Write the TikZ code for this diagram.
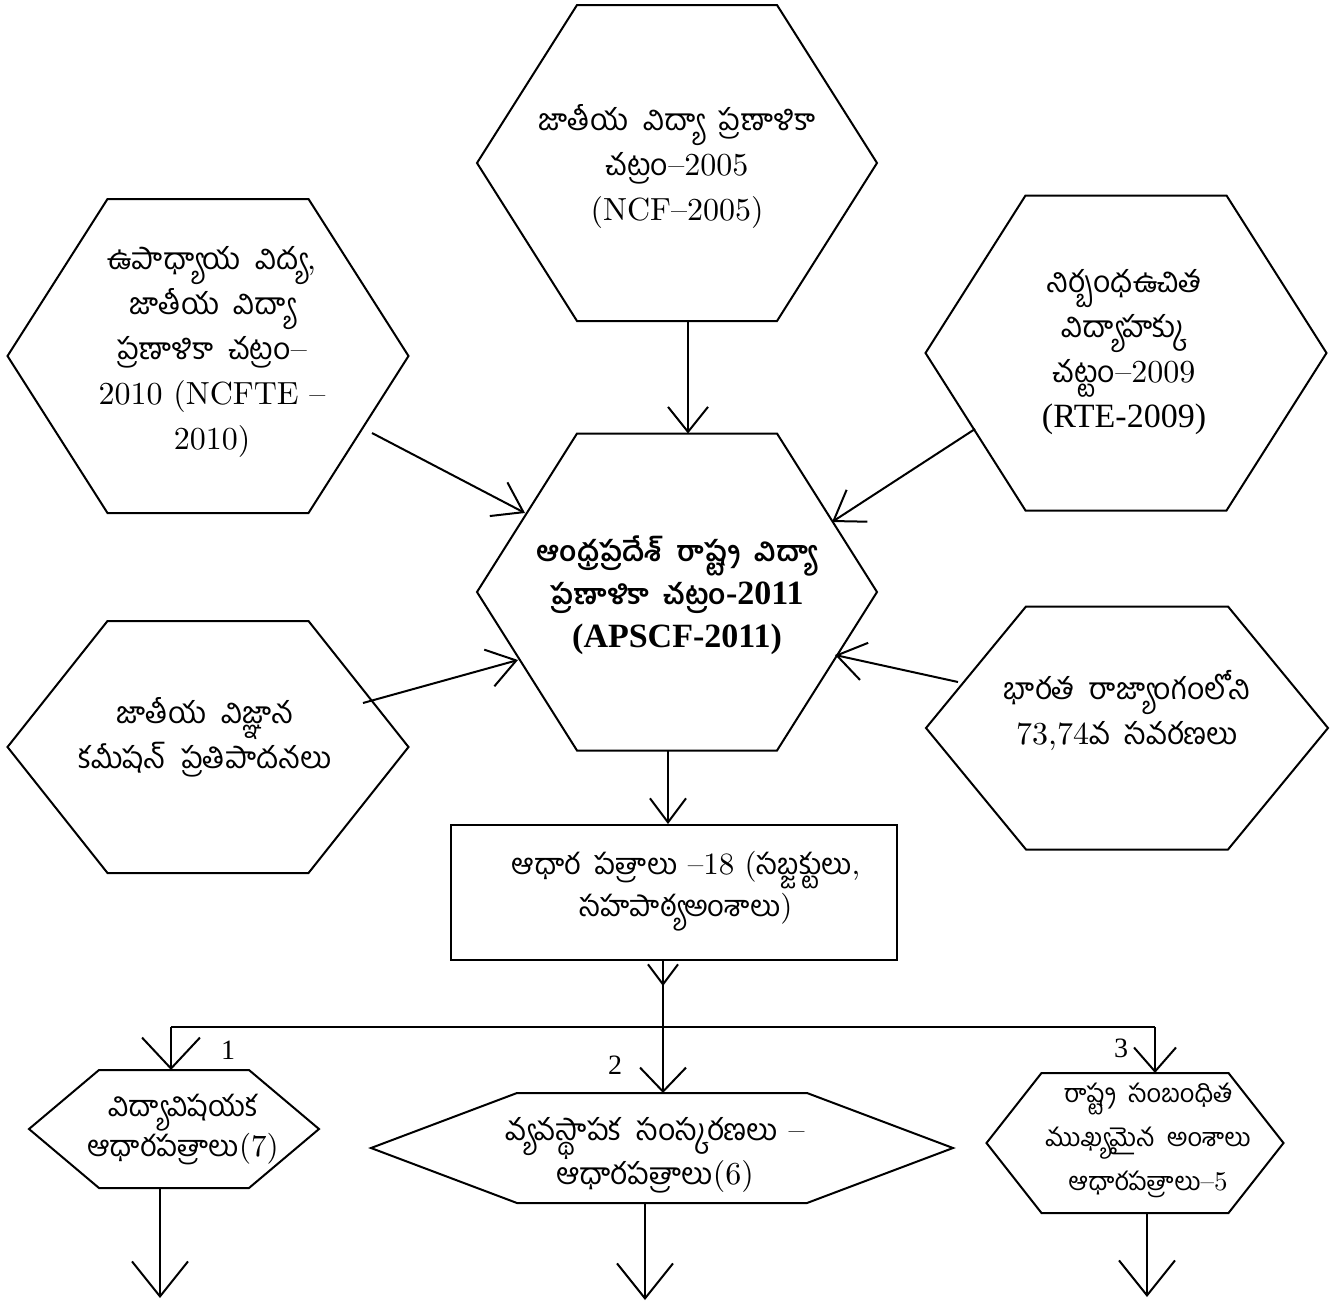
\documentclass[tikz,border=0pt]{standalone}
\usepackage{fontspec}
\usetikzlibrary{arrows.meta,calc}
\setmainfont{lmroman10-regular.otf}[BoldFont=lmroman10-bold.otf]
\newfontfamily\te[Script=Telugu,Scale=0.94,WordSpace=2]{Hind Guntur}
\newfontfamily\tnr{Liberation Serif}
\newcommand\T[1]{{\te #1}}
\newcommand\drawhex[2]{\draw[hexline] ([xshift=#2pt]#1.north west) -- ([xshift=-#2pt]#1.north east) -- (#1.east) -- ([xshift=-#2pt]#1.south east) -- ([xshift=#2pt]#1.south west) -- (#1.west) -- cycle;}
\begin{document}
\begin{tikzpicture}[x=1pt,y=-1pt,
  shp/.style={inner sep=0pt,outer sep=0pt,draw=none},
  hexline/.style={line width=2pt,line join=miter},
  txt/.style={align=center,inner sep=0pt,font=\fontsize{32}{45}\selectfont},
  arr/.style 2 args={line width=2pt,-{Straight Barb[length=#1pt,width=#2pt]}},
  ln/.style={line width=2pt},
  numlab/.style={inner sep=0pt,font=\tnr\fontsize{28}{28}\selectfont}]
\useasboundingbox (0,0) rectangle (1344,1304);
% hexagon frames
\node[shp,minimum width=400pt,minimum height=316pt] (ncf) at (677,163) {};
\node[shp,minimum width=400pt,minimum height=317pt] (apscf) at (677,592) {};
\node[shp,minimum width=401pt,minimum height=314pt] (ncfte) at (208,356) {};
\node[shp,minimum width=401pt,minimum height=315pt] (rte) at (1126,353) {};
\node[shp,minimum width=401pt,minimum height=252pt] (nsc) at (208,747) {};
\node[shp,minimum width=402pt,minimum height=243pt] (bh) at (1127,728) {};
\node[shp,minimum width=290pt,minimum height=118pt] (hA) at (174,1129) {};
\node[shp,minimum width=582pt,minimum height=110pt] (hB) at (662,1148) {};
\node[shp,minimum width=297pt,minimum height=140pt] (hC) at (1135,1143) {};
\drawhex{ncf}{100}
\drawhex{apscf}{100}
\drawhex{ncfte}{100}
\drawhex{rte}{100}
\drawhex{nsc}{100}
\drawhex{bh}{100}
\drawhex{hA}{70}
\drawhex{hB}{146}
\drawhex{hC}{55}
\node[draw,line width=2pt,inner sep=0pt,minimum width=446pt,minimum height=135pt] (box) at (674,892.5) {};
% texts
\node[txt] (ncfT) at (677,167) {\T{జాతీయ విద్యా ప్రణాళికా}\\\T{చట్రం}–2005\\(NCF–2005)};
\node[txt] (ncfteT) at (212,352) {\T{ఉపాధ్యాయ విద్య},\\\T{జాతీయ విద్యా}\\\T{ప్రణాళికా చట్రం}–\\2010 (NCFTE –\\2010)};
\node[txt] (rteT) at (1124,352) {\T{నిర్బంధఉచిత}\\\T{విద్యాహక్కు}\\\T{చట్టం}–2009\\{\tnr\fontsize{34}{45}\selectfont(RTE-2009)}};
\node[txt,font=\fontsize{30}{43}\selectfont\bfseries] (apscfT) at (677,595) {\T{ఆంధ్రప్రదేశ్ రాష్ట్ర విద్యా}\\\T{ప్రణాళికా చట్రం}{\tnr\fontsize{34}{43}\selectfont\bfseries-2011}\\{\tnr\fontsize{34}{43}\selectfont\bfseries(APSCF-2011)}};
\node[txt] (nscT) at (205,737) {\T{జాతీయ విజ్ఞాన}\\\T{కమీషన్ ప్రతిపాదనలు}};
\node[txt] (bhT) at (1127,711) {\T{భారత రాజ్యాంగంలోని}\\73,74\T{వ సవరణలు}};
\node[txt,font=\fontsize{31}{42}\selectfont] (boxT) at (686,891) {\T{ఆధార పత్రాలు} –18 (\T{సబ్జక్టులు},\\\T{సహపాఠ్యఅంశాలు})};
\node[txt,font=\fontsize{31}{40}\selectfont] (hAT) at (183,1130) {\T{విద్యావిషయక}\\\T{ఆధారపత్రాలు}(7)};
\node[txt,font=\fontsize{32}{37}\selectfont] (hBT) at (655,1155) {\T{వ్యవస్థాపక సంస్కరణలు} –\\\T{ఆధారపత్రాలు}(6)};
\node[txt,font=\fontsize{27}{44}\selectfont] (hCT) at (1148,1140) {\T{రాష్ట్ర సంబంధిత}\\\T{ముఖ్యమైన అంశాలు}\\\T{ఆధారపత్రాలు}–5};
% numbers
\node[numlab] (n1) at (228,1050) {1};
\node[numlab] (n2) at (615,1065) {2};
\node[numlab] (n3) at (1121,1048) {3};
% connectors into centre
\draw[arr={25}{40}] ([xshift=11pt]ncf.south) -- ([xshift=11pt]apscf.north);
\draw[arr={28}{38}] ([shift={(164,77)}]ncfte.center) -- ([shift={(-152,-79)}]apscf.center);
\draw[arr={28}{38}] ([shift={(-151,76)}]rte.center) -- ([shift={(155,-70)}]apscf.center);
\draw[arr={28}{38}] ([shift={(155,-44)}]nsc.center) -- ([shift={(-159,68)}]apscf.center);
\draw[arr={28}{38}] ([shift={(-169,-46)}]bh.center) -- ([shift={(158,63)}]apscf.center);
% centre to box
\draw[arr={24}{36}] ([xshift=-9pt]apscf.south) -- ([xshift=-9pt]apscf.south |- box.north);
% box to branches
\coordinate (junc) at (663,1027);
\coordinate (jl) at (171,1027);
\coordinate (jr) at (1155,1027);
\draw[arr={20}{30}] (box.south -| junc) -- ($(box.south -| junc)+(0,25)$);
\draw[ln] (box.south -| junc) -- (junc);
\draw[ln] (jl) -- (jr);
\draw[arr={31}{58}] (jl) -- (jl |- hA.north);
\draw[arr={24}{46}] (junc) -- (junc |- hB.north);
\draw[arr={24}{42}] (jr) -- (jr |- hC.north);
% bottom outgoing arrows
\coordinate (endA) at (160,1298);
\coordinate (endB) at (645,1300);
\coordinate (endC) at (1147,1297);
\draw[arr={35}{56}] (endA |- hA.south) -- (endA);
\draw[arr={35}{56}] (endB |- hB.south) -- (endB);
\draw[arr={35}{56}] (endC |- hC.south) -- (endC);
\end{tikzpicture}
\end{document}
